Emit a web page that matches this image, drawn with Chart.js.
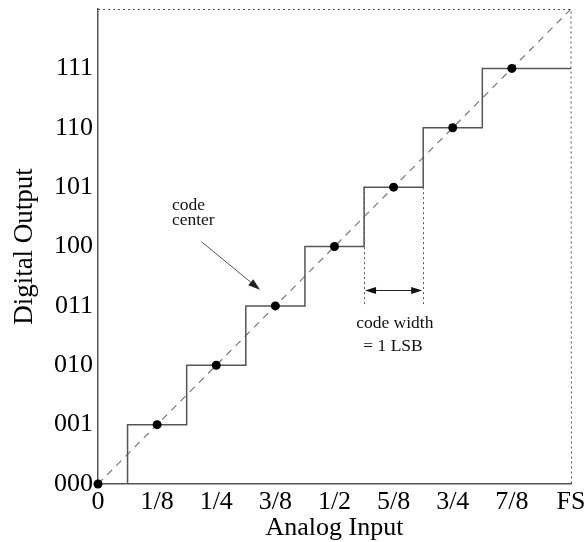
<!DOCTYPE html>
<html>
<head>
<meta charset="utf-8">
<script src="https://cdn.jsdelivr.net/npm/chart.js@4"></script>
<style>
html,body{margin:0;padding:0;background:#fff;}
#wrap{width:587px;height:542px;}
</style>
</head>
<body>
<div id="wrap"><canvas id="c" width="587" height="542"></canvas></div>
<script>
// ---- data ----
const codeLabels = ['000','001','010','011','100','101','110','111'];
const xTickLabels = ['0','1/8','1/4','3/8','1/2','5/8','3/4','7/8','FS'];
const stairX = [0,0.5,1.5,2.5,3.5,4.5,5.5,6.5,8];
const stairY = [0,1,2,3,4,5,6,7,7];
const centerX = [0,1,2,3,4,5,6,7];
const centerY = [0,1,2,3,4,5,6,7];
const idealX = [0,8];
const idealY = [0,8];
const widthMarkX = [4.5,5.5];
const widthMarkY = [5,3];
const widthArrowY = 3.26;
const centerArrowFrom = [1.75,4.08];
const centerArrowTo = [2.74,3.27];

const pts = (xs, ys) => xs.map((x,i)=>({x:x,y:ys[i]}));

const annot = {
  id:'annot',
  afterDatasetsDraw(chart){
    const {ctx, scales:{x,y}, chartArea:a} = chart;
    ctx.save();
    // dotted top and right frame
    ctx.strokeStyle='#555'; ctx.lineWidth=1; ctx.setLineDash([2,3]);
    ctx.beginPath();
    ctx.moveTo(a.left, Math.round(y.getPixelForValue(8))+0.5);
    ctx.lineTo(x.getPixelForValue(8), Math.round(y.getPixelForValue(8))+0.5);
    ctx.lineTo(Math.round(x.getPixelForValue(8))+0.5, y.getPixelForValue(0));
    ctx.stroke();
    // code width dotted markers
    widthMarkX.forEach(v=>{
      const px = Math.round(x.getPixelForValue(v))+0.5;
      ctx.beginPath();
      ctx.moveTo(px, y.getPixelForValue(widthMarkY[0]));
      ctx.lineTo(px, y.getPixelForValue(widthMarkY[1]));
      ctx.stroke();
    });
    ctx.setLineDash([]);
    const head = (fx,fy,tx,ty,len,hw)=>{
      const ang=Math.atan2(ty-fy,tx-fx);
      ctx.beginPath();
      ctx.moveTo(tx,ty);
      ctx.lineTo(tx-len*Math.cos(ang)+hw*Math.sin(ang), ty-len*Math.sin(ang)-hw*Math.cos(ang));
      ctx.lineTo(tx-len*Math.cos(ang)-hw*Math.sin(ang), ty-len*Math.sin(ang)+hw*Math.cos(ang));
      ctx.closePath(); ctx.fill();
    };
    ctx.fillStyle='#111'; ctx.strokeStyle='#222'; ctx.lineWidth=1.2;
    // code width arrow
    const ay = Math.round(y.getPixelForValue(widthArrowY))+0.5;
    const ax1 = x.getPixelForValue(widthMarkX[0])+1, ax2 = x.getPixelForValue(widthMarkX[1])-1;
    ctx.beginPath(); ctx.moveTo(ax1+6,ay); ctx.lineTo(ax2-6,ay); ctx.stroke();
    head(ax2,ay,ax1,ay,11,3.5);
    head(ax1,ay,ax2,ay,11,3.5);
    // code center arrow
    const fx=x.getPixelForValue(centerArrowFrom[0]), fy=y.getPixelForValue(centerArrowFrom[1]);
    const tx=x.getPixelForValue(centerArrowTo[0]), ty=y.getPixelForValue(centerArrowTo[1]);
    ctx.strokeStyle='#555'; ctx.lineWidth=1;
    ctx.beginPath(); ctx.moveTo(fx,fy); ctx.lineTo(tx-(tx-fx)*0.12,ty-(ty-fy)*0.12); ctx.stroke();
    ctx.fillStyle='#222';
    head(fx,fy,tx,ty,12,4);
    // texts
    ctx.fillStyle='#111';
    ctx.font='17.5px "Liberation Serif"';
    ctx.textBaseline='alphabetic';
    ctx.textAlign='left';
    ctx.fillText('code', x.getPixelForValue(1.25), y.getPixelForValue(4.61));
    ctx.fillText('center', x.getPixelForValue(1.25), y.getPixelForValue(4.37));
    ctx.textAlign='center';
    ctx.fillText('code width', x.getPixelForValue(5.02), y.getPixelForValue(2.63));
    ctx.fillText('= 1 LSB', x.getPixelForValue(4.99), y.getPixelForValue(2.24));
    ctx.restore();
  }
};

new Chart(document.getElementById('c'), {
  type:'scatter',
  data:{
    datasets:[
      {label:'ideal', data:pts(idealX,idealY), showLine:true, borderColor:'#777', borderWidth:1.2,
       borderDash:[7,6], pointRadius:0, fill:false, order:3},
      {label:'transfer', data:pts(stairX,stairY), showLine:true, stepped:'before', borderColor:'#555',
       borderWidth:1.5, pointRadius:0, fill:false, order:2},
      {label:'code center', data:pts(centerX,centerY), showLine:false, pointRadius:4.5, clip:false,
       pointBackgroundColor:'#000', pointBorderColor:'#000', pointBorderWidth:0, order:1}
    ]
  },
  options:{
    responsive:false, animation:false, devicePixelRatio:1,
    layout:{padding:{top:9,right:16,left:0,bottom:0}},
    plugins:{legend:{display:false}, tooltip:{enabled:false}},
    scales:{
      x:{type:'linear', min:0, max:8,
        grid:{display:false, drawTicks:false},
        border:{display:true, color:'#555', width:1.5},
        ticks:{stepSize:1, autoSkip:false, maxRotation:0, padding:3, color:'#000',
          font:{family:'"Liberation Serif"', size:26},
          callback:(v)=>xTickLabels[v]},
        title:{display:true, text:'Analog Input', color:'#000',
          font:{family:'"Liberation Serif"', size:26, lineHeight:1.1}, padding:{top:0,bottom:0}},
        afterFit(s){ s.height = 58; s.paddingLeft = 0; s.paddingRight = 0; }
      },
      y:{type:'linear', min:0, max:8,
        grid:{display:false, drawTicks:false},
        border:{display:true, color:'#555', width:1.5},
        ticks:{stepSize:1, autoSkip:false, padding:5, color:'#000',
          font:{family:'"Liberation Serif"', size:26},
          callback:(v)=>codeLabels[v]},
        afterBuildTicks(s){ s.ticks = s.ticks.filter(t=>t.value < codeLabels.length); },
        title:{display:true, text:'Digital Output', color:'#000',
          font:{family:'"Liberation Serif"', size:27, lineHeight:1.1}, padding:{top:10,bottom:0}},
        afterFit(s){ s.width = 98; s.paddingTop = 0; s.paddingBottom = 0; }
      }
    }
  },
  plugins:[annot]
});
</script>
</body>
</html>
